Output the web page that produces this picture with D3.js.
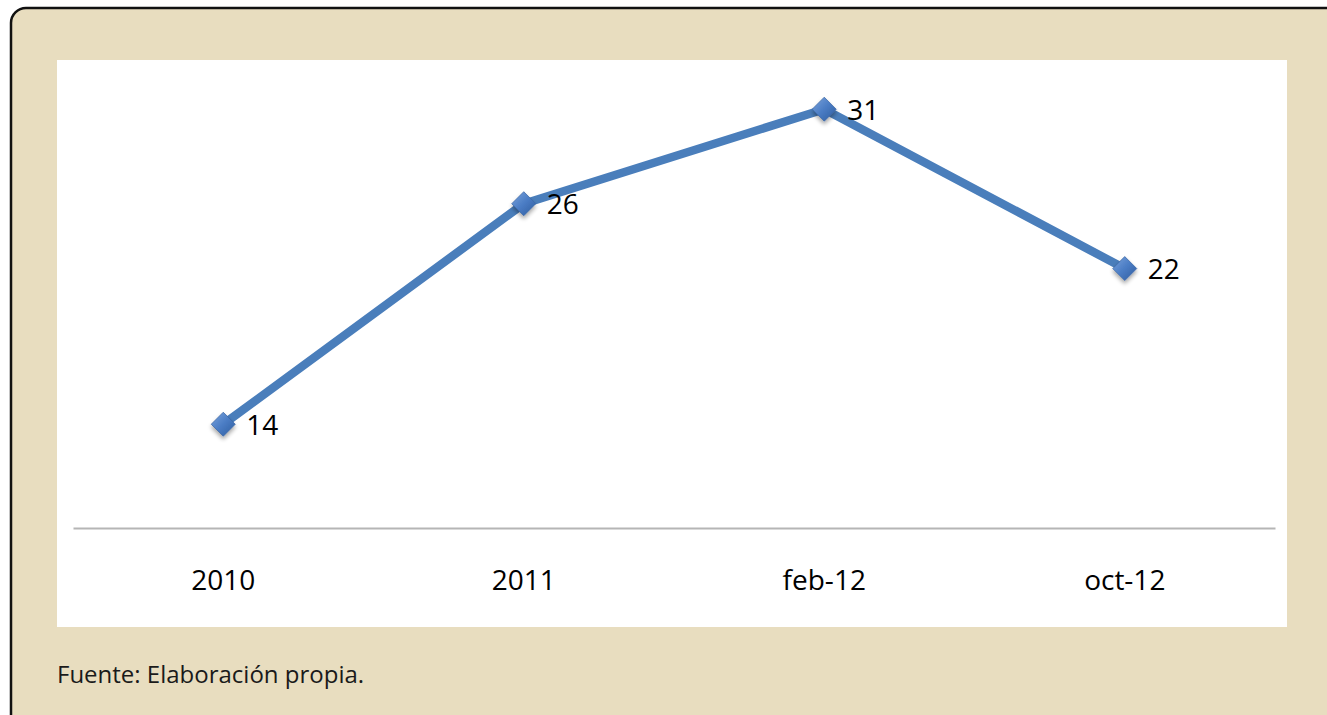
<!DOCTYPE html>
<html><head><meta charset="utf-8">
<script src="https://cdn.jsdelivr.net/npm/d3@7/dist/d3.min.js"></script>
<style>html,body{margin:0;padding:0;background:#fff;overflow:hidden}svg{display:block}</style>
</head><body>
<script>
const categories = ["2010", "2011", "feb-12", "oct-12"];
const values = [14, 25.9, 31, 22.4];
const labels = ["14", "26", "31", "22"];
const source = "Fuente: Elaboración propia.";

const W = 1327, H = 715;
const svg = d3.select("body").append("svg").attr("width", W).attr("height", H);
const defs = svg.append("defs");
const g1 = defs.append("linearGradient").attr("id","mk").attr("x1","0").attr("y1","0").attr("x2","1").attr("y2","1");
g1.append("stop").attr("offset","0").attr("stop-color","#7aa3dc");
g1.append("stop").attr("offset","0.5").attr("stop-color","#4a7cc4");
g1.append("stop").attr("offset","1").attr("stop-color","#2f5c9e");
const f = defs.append("filter").attr("id","sh").attr("x","-50%").attr("y","-50%").attr("width","200%").attr("height","200%");
f.append("feGaussianBlur").attr("in","SourceAlpha").attr("stdDeviation",2);
f.append("feOffset").attr("dx",0).attr("dy",3).attr("result","b");
f.append("feComponentTransfer").append("feFuncA").attr("type","linear").attr("slope",0.35);
const fm = f.append("feMerge"); fm.append("feMergeNode"); fm.append("feMergeNode").attr("in","SourceGraphic");

// panel
svg.append("rect").attr("x",11).attr("y",8).attr("width",1340).attr("height",730).attr("rx",15)
  .attr("fill","#e8ddbf").attr("stroke","#111").attr("stroke-width",2.5);
// plot area
svg.append("rect").attr("x",57).attr("y",60).attr("width",1230).attr("height",567).attr("fill","#fff");

const x = d3.scaleBand().domain(categories).range([73, 1275]);
const y = d3.scaleLinear().domain([8.4, 34]).range([528, 53.6]);

const xAxis = svg.append("g").attr("transform","translate(0,528)")
  .call(d3.axisBottom(x).tickSize(0).tickPadding(42));
xAxis.select(".domain").attr("stroke","#b5b5b5").attr("stroke-width",2);
xAxis.selectAll("text").attr("font-family","'Open Sans', sans-serif").attr("font-size",28).attr("fill","#000");

const data = categories.map((c,i)=>({c, v: values[i], l: labels[i]}));
const cx = d => x(d.c) + x.bandwidth()/2;

svg.append("path").datum(data)
  .attr("d", d3.line().x(cx).y(d=>y(d.v)))
  .attr("fill","none").attr("stroke","#4a7ebb").attr("stroke-width",8.5).attr("stroke-linejoin","round");

svg.selectAll(".mk").data(data).enter().append("path")
  .attr("class","mk")
  .attr("transform", d=>`translate(${cx(d)},${y(d.v)})`)
  .attr("d","M0,-12L12,0L0,12L-12,0Z")
  .attr("fill","url(#mk)").attr("stroke","#3d6aa8").attr("stroke-width",0.8)
  .attr("filter","url(#sh)");

svg.selectAll(".lb").data(data).enter().append("text")
  .attr("x", d=>cx(d)+23).attr("y", d=>y(d.v)+3)
  .attr("dominant-baseline","middle")
  .attr("font-family","'Open Sans', sans-serif").attr("font-size",28).attr("fill","#000")
  .text(d=>d.l);

svg.append("text").attr("x",57).attr("y",683)
  .attr("font-family","'Open Sans', sans-serif").attr("font-size",24).attr("fill","#1a1a1a")
  .text(source);
</script>
</body></html>
